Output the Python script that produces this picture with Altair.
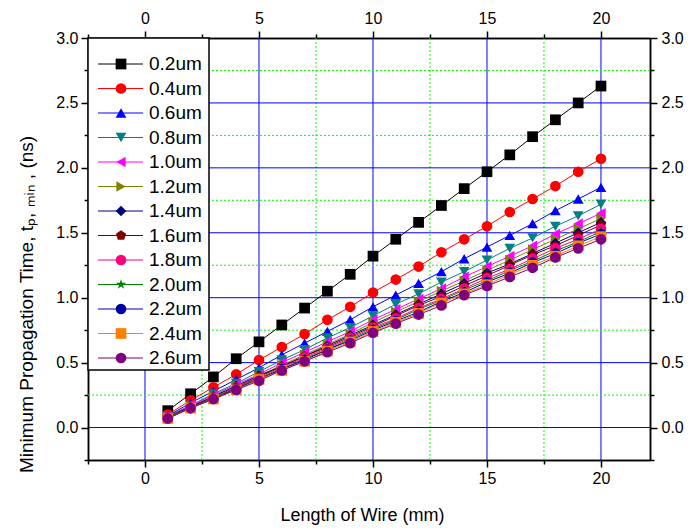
import altair as alt
import pandas as pd

# ---------------- data ----------------
wire_len = list(range(1, 21))
series_names = ["0.2um", "0.4um", "0.6um", "0.8um", "1.0um", "1.2um", "1.4um",
                "1.6um", "1.8um", "2.0um", "2.2um", "2.4um", "2.6um"]

t02 = [0.13, 0.26, 0.39, 0.53, 0.66, 0.79, 0.92, 1.05, 1.18, 1.32, 1.45, 1.58, 1.71, 1.84, 1.97, 2.10, 2.24, 2.37, 2.50, 2.63]
t04 = [0.10, 0.21, 0.31, 0.41, 0.52, 0.62, 0.72, 0.83, 0.93, 1.04, 1.14, 1.24, 1.35, 1.45, 1.55, 1.66, 1.76, 1.86, 1.97, 2.07]
t06 = [0.09, 0.19, 0.28, 0.37, 0.46, 0.56, 0.65, 0.74, 0.83, 0.93, 1.02, 1.11, 1.20, 1.30, 1.39, 1.48, 1.57, 1.67, 1.76, 1.85]
t08 = [0.09, 0.17, 0.26, 0.34, 0.43, 0.52, 0.60, 0.69, 0.77, 0.86, 0.95, 1.03, 1.12, 1.20, 1.29, 1.38, 1.46, 1.55, 1.63, 1.72]
t10 = [0.08, 0.17, 0.25, 0.33, 0.41, 0.50, 0.58, 0.66, 0.74, 0.83, 0.91, 0.99, 1.07, 1.16, 1.24, 1.32, 1.40, 1.49, 1.57, 1.65]
t12 = [0.08, 0.16, 0.24, 0.32, 0.40, 0.48, 0.56, 0.64, 0.72, 0.81, 0.89, 0.97, 1.05, 1.13, 1.21, 1.29, 1.37, 1.45, 1.53, 1.61]
t14 = [0.08, 0.16, 0.24, 0.32, 0.40, 0.47, 0.55, 0.63, 0.71, 0.79, 0.87, 0.95, 1.03, 1.11, 1.19, 1.26, 1.34, 1.42, 1.50, 1.58]
t16 = [0.08, 0.16, 0.23, 0.31, 0.39, 0.47, 0.55, 0.62, 0.70, 0.78, 0.86, 0.94, 1.01, 1.09, 1.17, 1.25, 1.33, 1.40, 1.48, 1.56]
t18 = [0.08, 0.15, 0.23, 0.31, 0.38, 0.46, 0.54, 0.61, 0.69, 0.77, 0.84, 0.92, 0.99, 1.07, 1.15, 1.22, 1.30, 1.38, 1.45, 1.53]
t20 = [0.08, 0.15, 0.23, 0.30, 0.38, 0.45, 0.53, 0.60, 0.68, 0.76, 0.83, 0.91, 0.98, 1.06, 1.13, 1.21, 1.28, 1.36, 1.43, 1.51]
t22 = [0.07, 0.15, 0.22, 0.30, 0.37, 0.45, 0.52, 0.60, 0.67, 0.75, 0.82, 0.89, 0.97, 1.04, 1.12, 1.19, 1.27, 1.34, 1.42, 1.49]
t24 = [0.07, 0.15, 0.22, 0.29, 0.37, 0.44, 0.51, 0.59, 0.66, 0.74, 0.81, 0.88, 0.96, 1.03, 1.10, 1.18, 1.25, 1.32, 1.40, 1.47]
t26 = [0.07, 0.15, 0.22, 0.29, 0.36, 0.44, 0.51, 0.58, 0.65, 0.73, 0.80, 0.87, 0.94, 1.02, 1.09, 1.16, 1.23, 1.31, 1.38, 1.45]
all_series = [t02, t04, t06, t08, t10, t12, t14, t16, t18, t20, t22, t24, t26]

colors = ["#000000", "#FF0000", "#0000FF", "#008080", "#FF00FF", "#808000", "#000080",
          "#800000", "#FF0080", "#008000", "#0000A0", "#FF8000", "#800080"]
PENTAGON = "M0,-1L0.951,-0.309L0.588,0.809L-0.588,0.809L-0.951,-0.309Z"
STAR = ("M0,-1L0.225,-0.309L0.951,-0.309L0.363,0.118L0.588,0.809L0,0.382"
        "L-0.588,0.809L-0.363,0.118L-0.951,-0.309L-0.225,-0.309Z")
shapes = ["square", "circle", "triangle-up", "triangle-down", "triangle-left",
          "triangle-right", "diamond", PENTAGON, "circle", STAR, "circle", "square", "circle"]

x_major = [0, 5, 10, 15, 20]
x_minor_ticks = [-2.5, 2.5, 7.5, 12.5, 17.5]
x_minor_grid = [2.5, 7.5, 12.5, 17.5]
y_major_grid = [0.0, 0.5, 1.0, 1.5, 2.0, 2.5]
y_major_ticks = [0.0, 0.5, 1.0, 1.5, 2.0, 2.5, 3.0]
y_minor_ticks = [-0.25, 0.25, 0.75, 1.25, 1.75, 2.25, 2.75]
y_minor_grid = [0.25, 0.75, 1.25, 1.75, 2.25, 2.75]
X_DOMAIN = [-2.5, 22.15]
Y_DOMAIN = [-0.25, 3.0]

FONT = "Liberation Sans"
x_title = "Length of Wire (mm)"
y_title = "Minimum Propagation Time, t\u209a, \u2098\u1d62\u2099 , (ns)"

rows = []
for name, vals in zip(series_names, all_series):
    for xv, yv in zip(wire_len, vals):
        rows.append({"series": name, "L": xv, "t": yv})
df = pd.DataFrame(rows)

xs = alt.Scale(domain=X_DOMAIN, nice=False, zero=False)
ys = alt.Scale(domain=Y_DOMAIN, nice=False, zero=False)
cs = alt.Scale(domain=series_names, range=colors)
ss = alt.Scale(domain=series_names, range=shapes)

MAJ = 7
MIN = 4
MSIZE = 115

def ax(orient, values, size, labels=True, title=None, fmt=None, **kw):
    args = dict(orient=orient, values=values, tickSize=size, labels=labels,
                grid=False, domain=True, domainColor="black", domainWidth=1.5,
                tickColor="black", tickWidth=1.5, labelFont=FONT, labelFontSize=16,
                labelColor="black", labelPadding=3, title=title)
    if fmt:
        args["format"] = fmt
    args.update(kw)
    return alt.Axis(**args)

vminor = alt.Chart(pd.DataFrame({"v": x_minor_grid})).mark_rule(
    color="#00FF00", strokeDash=[2, 2], strokeWidth=1).encode(
    x=alt.X("v:Q", scale=xs, axis=ax("bottom", x_minor_ticks, MIN, labels=False)))
vmajor = alt.Chart(pd.DataFrame({"v": x_major})).mark_rule(
    color="#0000FF", strokeWidth=1).encode(
    x=alt.X("v:Q", scale=xs, axis=ax("bottom", x_major, MAJ, title=x_title, fmt="d",
                                      titleFont=FONT, titleFontSize=18, titleFontWeight="normal",
                                      titleColor="black", titlePadding=20, titleX=274)))
hminor = alt.Chart(pd.DataFrame({"h": y_minor_grid})).mark_rule(
    color="#00FF00", strokeDash=[2, 2], strokeWidth=1).encode(
    y=alt.Y("h:Q", scale=ys, axis=ax("left", y_minor_ticks, MIN, labels=False)))
hmajor = alt.Chart(pd.DataFrame({"h": y_major_grid})).mark_rule(
    color="#0000FF", strokeWidth=1).encode(
    y=alt.Y("h:Q", scale=ys, axis=ax("left", y_major_ticks, MAJ, title=y_title, fmt=".1f",
                                      titleFont=FONT, titleFontSize=19, titleFontWeight="normal",
                                      titleColor="black", titlePadding=19, titleY=266)))

lines = alt.Chart(df).mark_line(strokeWidth=1).encode(
    x=alt.X("L:Q", scale=xs, axis=ax("top", x_major, MAJ, fmt="d", labelPadding=5)),
    y=alt.Y("t:Q", scale=ys, axis=ax("right", y_major_ticks, MAJ, fmt=".1f", labelPadding=4)),
    color=alt.Color("series:N", scale=cs, legend=None),
)
points = alt.Chart(df).mark_point(filled=True, size=MSIZE, opacity=1, strokeWidth=1).encode(
    x=alt.X("L:Q", scale=xs, axis=ax("top", x_minor_ticks, MIN, labels=False)),
    y=alt.Y("t:Q", scale=ys, axis=ax("right", y_minor_ticks, MIN, labels=False)),
    color=alt.Color("series:N", scale=cs, legend=None),
    shape=alt.Shape("series:N", scale=ss, legend=None),
)

main = alt.layer(vminor, vmajor, hminor, hmajor, lines, points).resolve_axis(
    x="independent", y="independent").properties(width=562, height=422)

# custom legend
leg_df = pd.DataFrame({"series": series_names})
ly = alt.Y("series:N", sort=series_names,
           scale=alt.Scale(type="point", domain=series_names, range=[26, 320], padding=0),
           axis=None)
box = alt.Chart(pd.DataFrame({"b": [0]})).mark_rect(
    fill="white", stroke="black", strokeWidth=1.5).encode(
    x=alt.value(0), x2=alt.value(121), y=alt.value(0), y2=alt.value(332))
leg_lines = alt.Chart(leg_df).mark_rule(strokeWidth=1).encode(
    x=alt.value(10), x2=alt.value(55), y=ly,
    color=alt.Color("series:N", scale=cs, legend=None))
leg_pts = alt.Chart(leg_df).mark_point(filled=True, size=MSIZE, opacity=1).encode(
    x=alt.value(33), y=ly,
    color=alt.Color("series:N", scale=cs, legend=None),
    shape=alt.Shape("series:N", scale=ss, legend=None))
leg_txt = alt.Chart(leg_df).mark_text(
    align="left", baseline="middle", font=FONT, fontSize=19, color="black").encode(
    x=alt.value(61), y=ly, text="series:N")
legend = alt.layer(box, leg_lines, leg_pts, leg_txt)

chart = alt.layer(main, legend).resolve_scale(y="independent", x="independent").properties(
    autosize=alt.AutoSizeParams(type="none"),
    padding={"left": 88, "top": 38, "right": 49, "bottom": 71},
).configure_view(stroke=None).configure(background="white")

chart.save("out.html", embed_options={"renderer": "svg", "actions": False})
